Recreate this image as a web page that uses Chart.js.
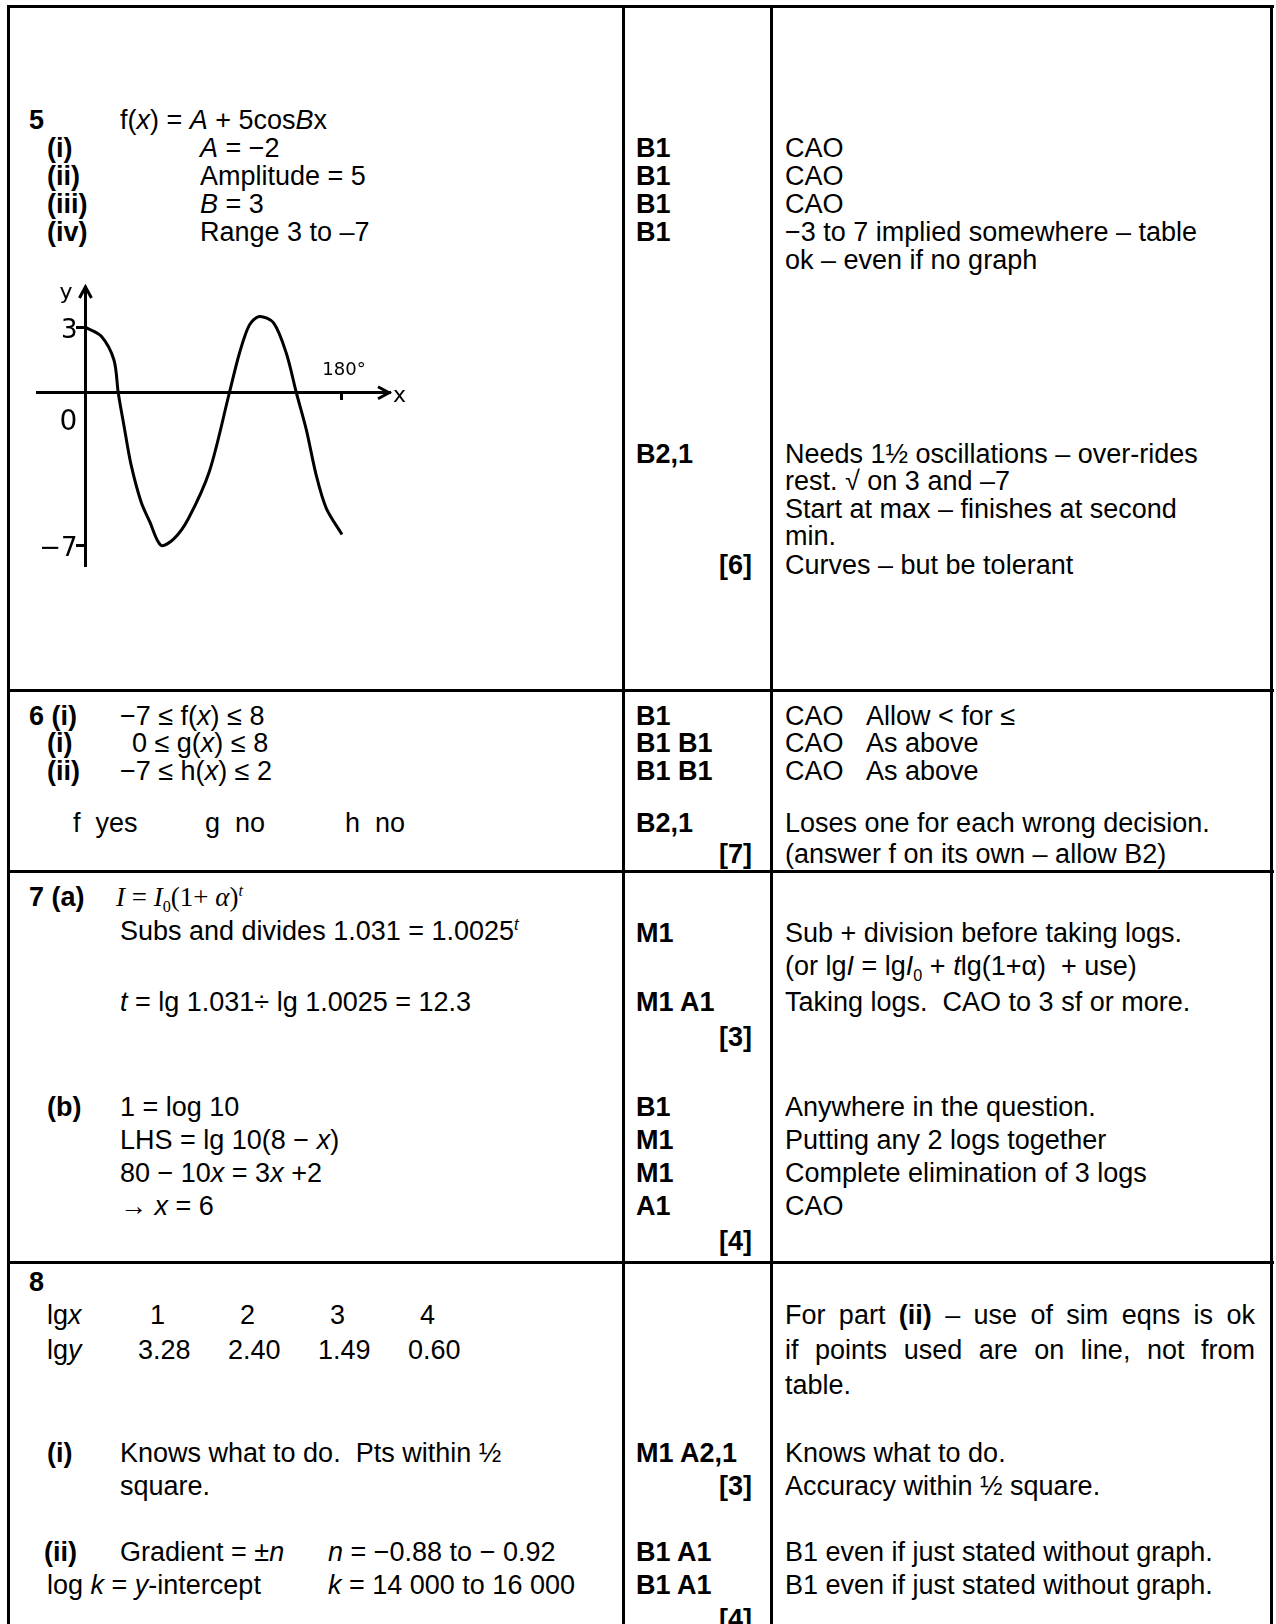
<!DOCTYPE html>
<html>
<head>
<meta charset="utf-8">
<title>Mark scheme 5-8</title>
<script src="https://cdn.jsdelivr.net/npm/chart.js@4.4.1/dist/chart.umd.min.js"></script>
<style>
html, body { margin: 0; padding: 0; background: #fff; }
body { width: 1276px; height: 1624px; position: relative; overflow: hidden;
       font-family: "Liberation Sans", Arial, sans-serif; font-size: 27px; color: #000; }
.t { position: absolute; white-space: nowrap; line-height: 31px; }
.b { font-weight: bold; }
.j { width: 470px; text-align: justify; text-align-last: justify; }
.eq { font-family: "Liberation Serif", "Times New Roman", serif; }
sup, sub { font-size: 60%; line-height: 0; }
.hl { position: absolute; height: 3px; background: #000; }
.vl { position: absolute; width: 3px; background: #000; }
#sketchBox { position: absolute; left: 35px; top: 272px; width: 378px; height: 309px; }
</style>
</head>
<body>
<div class="hl" style="left:7px;top:5px;width:1267px"></div>
<div class="hl" style="left:7px;top:689px;width:1267px"></div>
<div class="hl" style="left:7px;top:870px;width:1267px"></div>
<div class="hl" style="left:7px;top:1261px;width:1267px"></div>
<div class="vl" style="left:7px;top:5px;height:1619px"></div>
<div class="vl" style="left:622px;top:5px;height:1619px"></div>
<div class="vl" style="left:770px;top:5px;height:1619px"></div>
<div class="vl" style="left:1270px;top:5px;height:1619px"></div>

<div id="sketchBox"><canvas id="sketch" width="378" height="309"></canvas></div>

<script>
// hand sketch of f(x) = -2 + 5cos3x (x in degrees)
const sketchDeg = [0, 11, 20, 23, 27, 32, 39, 45, 53, 62, 72, 87, 101, 108, 115, 122, 132, 141, 148, 155, 162, 169, 180];
const sketchY   = [3, 2.6, 1.5, 0, -1.5, -3.3, -5.0, -5.9, -7, -6.7, -5.8, -3.6, 0, 1.8, 3.1, 3.5, 3.2, 1.8, 0, -1.7, -3.8, -5.3, -6.5];
const yTickVals = [3, -7];
const yTickText = ["3", "−7"];
const xTickVals = [180];
const xTickText = ["180°"];

// mark scheme text: [x, line centre y, html, class]
const Q = 29, S = 47, W = 120, M = 636, C = 785, TOT = 752;
const lines = [
    [Q, 121, "5", "b"], [W, 121, "f(<i>x</i>) = <i>A</i> + 5cos<i>B</i>x"],
    [S, 149, "(i)", "b"], [200, 149, "<i>A</i> = −2"], [M, 149, "B1", "b"], [C, 149, "CAO"],
    [S, 177, "(ii)", "b"], [200, 177, "Amplitude = 5"], [M, 177, "B1", "b"], [C, 177, "CAO"],
    [S, 205, "(iii)", "b"], [200, 205, "<i>B</i> = 3"], [M, 205, "B1", "b"], [C, 205, "CAO"],
    [S, 233, "(iv)", "b"], [200, 233, "Range 3 to –7"], [M, 233, "B1", "b"], [C, 233, "−3 to 7 implied somewhere – table"],
    [C, 261, "ok – even if no graph"],
    [M, 455, "B2,1", "b"], [C, 455, "Needs 1½ oscillations – over-rides"],
    [C, 482, "rest. √ on 3 and –7"],
    [C, 510, "Start at max – finishes at second"],
    [C, 537, "min."],
    [TOT, 566, "[6]", "b r"], [C, 566, "Curves – but be tolerant"],

    [Q, 717, "6 (i)", "b"], [W, 717, "−7 ≤ f(<i>x</i>) ≤ 8"], [M, 717, "B1", "b"], [C, 717, "CAO&nbsp;&nbsp;&nbsp;Allow &lt; for ≤"],
    [S, 744, "(i)", "b"], [W + 12, 744, "0 ≤ g(<i>x</i>) ≤ 8"], [M, 744, "B1 B1", "b"], [C, 744, "CAO&nbsp;&nbsp;&nbsp;As above"],
    [S, 772, "(ii)", "b"], [W, 772, "−7 ≤ h(<i>x</i>) ≤ 2"], [M, 772, "B1 B1", "b"], [C, 772, "CAO&nbsp;&nbsp;&nbsp;As above"],
    [73, 824, "f&nbsp;&nbsp;yes"], [205, 824, "g&nbsp;&nbsp;no"], [345, 824, "h&nbsp;&nbsp;no"], [M, 824, "B2,1", "b"], [C, 824, "Loses one for each wrong decision."],
    [TOT, 855, "[7]", "b r"], [C, 855, "(answer f on its own – allow B2)"],

    [Q, 898, "7 (a)", "b"], [W - 4, 898, "<span class=\"eq\"><i>I</i> = <i>I</i><sub>0</sub>(1+ <i>α</i>)<sup><i>t</i></sup></span>"],
    [W, 932, "Subs and divides 1.031 = 1.0025<sup><i>t</i></sup>"], [M, 934, "M1", "b"], [C, 934, "Sub + division before taking logs."],
    [C, 967, "(or lg<i>I</i> = lg<i>I</i><sub>0</sub> + <i>t</i>lg(1+α)&nbsp; + use)"],
    [W, 1003, "<i>t</i> = lg 1.031÷ lg 1.0025 = 12.3"], [M, 1003, "M1 A1", "b"], [C, 1003, "Taking logs.&nbsp; CAO to 3 sf or more."],
    [TOT, 1038, "[3]", "b r"],
    [S, 1108, "(b)", "b"], [W, 1108, "1 = log 10"], [M, 1108, "B1", "b"], [C, 1108, "Anywhere in the question."],
    [W, 1141, "LHS = lg 10(8 − <i>x</i>)"], [M, 1141, "M1", "b"], [C, 1141, "Putting any 2 logs together"],
    [W, 1174, "80 − 10<i>x</i> = 3<i>x</i> +2"], [M, 1174, "M1", "b"], [C, 1174, "Complete elimination of 3 logs"],
    [W, 1207, "→ <i>x</i> = 6"], [M, 1207, "A1", "b"], [C, 1207, "CAO"],
    [TOT, 1242, "[4]", "b r"],

    [Q, 1283, "8", "b"],
    [S, 1316, "lg<i>x</i>"], [150, 1316, "1"], [240, 1316, "2"], [330, 1316, "3"], [420, 1316, "4"],
    [C, 1316, "For part <b>(ii)</b> – use of sim eqns is ok", "j"],
    [S, 1351, "lg<i>y</i>"], [138, 1351, "3.28"], [228, 1351, "2.40"], [318, 1351, "1.49"], [408, 1351, "0.60"],
    [C, 1351, "if points used are on line, not from", "j"],
    [C, 1386, "table."],
    [S, 1454, "(i)", "b"], [W, 1454, "Knows what to do.&nbsp; Pts within ½"], [M, 1454, "M1 A2,1", "b"], [C, 1454, "Knows what to do."],
    [W, 1487, "square."], [TOT, 1487, "[3]", "b r"], [C, 1487, "Accuracy within ½ square."],
    [S - 3, 1553, "(ii)", "b"], [W, 1553, "Gradient = ±<i>n</i>"], [328, 1553, "<i>n</i> = −0.88 to − 0.92"],
    [M, 1553, "B1 A1", "b"], [C, 1553, "B1 even if just stated without graph."],
    [S, 1586, "log <i>k</i> = <i>y</i>-intercept"], [328, 1586, "<i>k</i> = 14 000 to 16 000"],
    [M, 1586, "B1 A1", "b"], [C, 1586, "B1 even if just stated without graph."],
    [TOT, 1620, "[4]", "b r"]
];

lines.forEach(([x, y, html, cls]) => {
    const d = document.createElement("div");
    d.className = "t " + (cls || "");
    if (cls && cls.split(" ").includes("r")) d.style.right = (1276 - x) + "px";
    else d.style.left = x + "px";
    d.style.top = (y - 16) + "px";
    d.innerHTML = html;
    document.body.appendChild(d);
});

// arrows and the hand labels on the sketch axes
const sketchArt = {
    id: "sketchArt",
    afterDraw(chart) {
        const { ctx, scales: { x, y } } = chart;
        const ox = x.getPixelForValue(0), oy = y.getPixelForValue(0);
        ctx.save();
        ctx.strokeStyle = "#000";
        ctx.fillStyle = "#000";
        ctx.lineWidth = 3;
        ctx.beginPath();
        ctx.moveTo(ox - 6, y.top + 11); ctx.lineTo(ox, y.top); ctx.lineTo(ox + 6, y.top + 11);
        ctx.stroke();
        ctx.beginPath();
        ctx.moveTo(x.right - 11, oy - 6); ctx.lineTo(x.right, oy); ctx.lineTo(x.right - 11, oy + 6);
        ctx.stroke();
        ctx.textBaseline = "middle";
        ctx.font = "22px 'DejaVu Sans'";
        ctx.fillText("y", ox - 26, y.top + 6);
        ctx.fillText("x", x.right + 4, oy + 4);
        ctx.font = "28px 'DejaVu Sans'";
        ctx.fillText("0", ox - 26, oy + 30);
        // y tick labels, left of the axis
        ctx.font = "26px 'DejaVu Sans'";
        ctx.textAlign = "right";
        yTickVals.forEach((v, i) => {
            ctx.fillText(yTickText[i], ox - 8, y.getPixelForValue(v) + 4);
        });
        ctx.font = "18px 'DejaVu Sans'";
        ctx.textAlign = "center";
        xTickVals.forEach((v, i) => {
            ctx.fillText(xTickText[i], x.getPixelForValue(v) + 2, oy - 22);
        });
        ctx.restore();
    }
};

new Chart(document.getElementById("sketch").getContext("2d"), {
    type: "line",
    data: {
        datasets: [{
            data: sketchDeg.map((d, i) => ({ x: d, y: sketchY[i] })),
            borderColor: "#000",
            borderWidth: 3,
            pointRadius: 0,
            tension: 0.3,
            fill: false
        }]
    },
    options: {
        responsive: false,
        animation: false,
        devicePixelRatio: 1,
        layout: { padding: { left: 2, right: 24, top: 15, bottom: 16 } },
        plugins: { legend: { display: false }, tooltip: { enabled: false } },
        scales: {
            x: {
                type: "linear", min: -34, max: 213,
                position: { y: 0 },
                border: { color: "#000", width: 3 },
                grid: { drawOnChartArea: false, tickLength: 6, color: "#000", lineWidth: 3 },
                ticks: { display: false },
                afterBuildTicks: s => { s.ticks = xTickVals.map(v => ({ value: v })); }
            },
            y: {
                type: "linear", min: -7.9, max: 4.85,
                position: { x: 0 },
                border: { color: "#000", width: 3 },
                grid: { drawOnChartArea: false, tickLength: 8, color: "#000", lineWidth: 3 },
                ticks: { display: false },
                afterBuildTicks: s => { s.ticks = yTickVals.map(v => ({ value: v })); }
            }
        }
    },
    plugins: [sketchArt]
});
</script>
</body>
</html>
